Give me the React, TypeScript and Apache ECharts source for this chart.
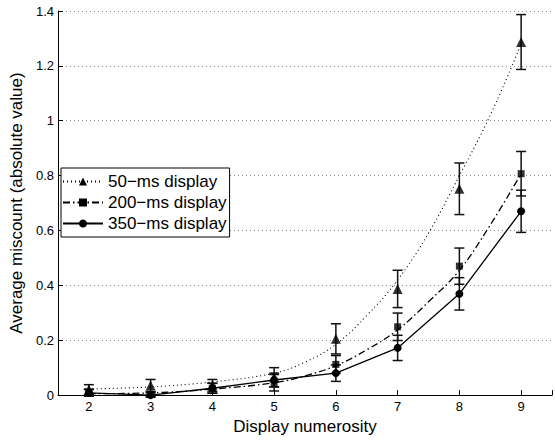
import React, { useEffect, useRef } from "react";
import * as echarts from "echarts";

// Display numerosity (categories on the x axis)
const numerosity = [2, 3, 4, 5, 6, 7, 8, 9];

// Mean miscount per display duration
const ms50 = [0.02, 0.035, 0.035, 0.065, 0.205, 0.387, 0.752, 1.287];
const ms200 = [0.01, 0.003, 0.025, 0.045, 0.112, 0.249, 0.47, 0.807];
const ms350 = [0.008, 0.0, 0.025, 0.055, 0.08, 0.172, 0.369, 0.67];

// Error bar half-lengths
const err50 = [0.018, 0.022, 0.022, 0.035, 0.055, 0.068, 0.094, 0.1];
const err200 = [0.012, 0.008, 0.018, 0.03, 0.032, 0.05, 0.066, 0.081];
const err350 = [0.012, 0.008, 0.018, 0.025, 0.03, 0.046, 0.059, 0.077];

// Fitted curves (dotted = 50 ms, dash-dot = 200 ms)
const fitX = [2, 3, 4, 5, 5.5, 6, 6.5, 7, 7.5, 8, 8.5, 9];
const fit50 = [0.022, 0.03, 0.048, 0.08, 0.12, 0.185, 0.29, 0.42, 0.59, 0.8, 1.02, 1.28];
const fit200 = [0.005, 0.008, 0.022, 0.045, 0.07, 0.107, 0.165, 0.238, 0.34, 0.455, 0.62, 0.807];

const yTicks = [0, 0.2, 0.4, 0.6, 0.8, 1, 1.2, 1.4];

const names = ["50\u2212ms display", "200\u2212ms display", "350\u2212ms display"];

const FONT = "'Liberation Sans', Arial, Helvetica, sans-serif";

function pairs(xs: number[], ys: number[]) {
  return xs.map((x, i) => [x, ys[i]]);
}
function bars(xs: number[], ys: number[], es: number[]) {
  return xs.map((x, i) => [x, ys[i] - es[i], ys[i] + es[i]]);
}

const errRender = (params: any, api: any) => {
  const x = api.value(0);
  const pLo = api.coord([x, api.value(1)]);
  const pHi = api.coord([x, api.value(2)]);
  const w = 5;
  const st = { stroke: "#111", lineWidth: 1.5 };
  return {
    type: "group",
    children: [
      { type: "line", shape: { x1: pLo[0], y1: pLo[1], x2: pHi[0], y2: pHi[1] }, style: st },
      { type: "line", shape: { x1: pLo[0] - w, y1: pLo[1], x2: pLo[0] + w, y2: pLo[1] }, style: st },
      { type: "line", shape: { x1: pHi[0] - w, y1: pHi[1], x2: pHi[0] + w, y2: pHi[1] }, style: st },
    ],
  };
};

export default function App() {
  const ref = useRef<HTMLDivElement>(null);
  useEffect(() => {
    if (!ref.current) return;
    const chart = echarts.init(ref.current, null, { renderer: "svg" });
    const option: any = {
      animation: false,
      backgroundColor: "#fff",
      textStyle: { fontFamily: FONT },
      grid: { left: 55, right: 0, top: 11, bottom: 41, containLabel: false },
      legend: {
        orient: "vertical",
        left: 61,
        top: 168,
        data: names,
        itemWidth: 40,
        itemHeight: 10,
        itemGap: 4,
        padding: [5, 3, 5, 1],
        borderColor: "#000",
        borderWidth: 1,
        backgroundColor: "#fff",
        selectedMode: false,
        textStyle: { fontFamily: FONT, fontSize: 17, color: "#000" },
      },
      xAxis: {
        type: "value",
        min: 1.5,
        max: 9.5,
        splitNumber: 8,
        name: "Display numerosity",
        nameLocation: "middle",
        nameGap: 20,
        nameTextStyle: { fontFamily: FONT, fontSize: 17, color: "#000" },
        axisLine: { lineStyle: { color: "#000", width: 1 } },
        axisTick: { inside: true, length: 5, lineStyle: { color: "#000" } },
        axisLabel: {
          fontFamily: FONT,
          fontSize: 13,
          color: "#000",
          margin: 5,
          formatter: (v: number) => (numerosity.indexOf(v) >= 0 ? String(v) : ""),
        },
        splitLine: { show: false },
      },
      yAxis: {
        type: "value",
        min: yTicks[0],
        max: yTicks[yTicks.length - 1],
        interval: 0.2,
        name: "Average miscount (absolute value)",
        nameLocation: "middle",
        nameGap: 33,
        nameTextStyle: { fontFamily: FONT, fontSize: 17, color: "#000" },
        axisLine: { show: true, lineStyle: { color: "#000", width: 1 } },
        axisTick: { show: true, inside: true, length: 5, lineStyle: { color: "#000" } },
        axisLabel: { fontFamily: FONT, fontSize: 13, color: "#000", margin: 4 },
        splitLine: { show: true, lineStyle: { color: "#8a8a8a", width: 1, type: [1, 3] } },
      },
      series: [
        {
          name: names[0],
          type: "line",
          data: pairs(fitX, fit50),
          smooth: 0.4,
          showSymbol: false,
          symbol: "triangle",
          symbolSize: 9,
          itemStyle: { color: "#000" },
          lineStyle: { color: "#000", width: 1.1, type: [1, 3] },
          z: 2,
          silent: true,
        },
        {
          name: names[1],
          type: "line",
          data: pairs(fitX, fit200),
          smooth: 0.4,
          showSymbol: false,
          symbol: "rect",
          symbolSize: 7,
          itemStyle: { color: "#000" },
          lineStyle: { color: "#000", width: 1.3, type: [7, 3, 1.5, 3] },
          z: 2,
          silent: true,
        },
        {
          name: names[2],
          type: "line",
          data: pairs(numerosity, ms350),
          symbol: "circle",
          symbolSize: 8,
          showSymbol: true,
          itemStyle: { color: "#000" },
          lineStyle: { color: "#000", width: 1.3, type: "solid" },
          z: 4,
          silent: true,
        },
        {
          name: "m50",
          type: "scatter",
          data: pairs(numerosity, ms50),
          symbol: "triangle",
          symbolSize: 10,
          itemStyle: { color: "#000" },
          z: 4,
          silent: true,
        },
        {
          name: "m200",
          type: "scatter",
          data: pairs(numerosity, ms200),
          symbol: "rect",
          symbolSize: 7,
          itemStyle: { color: "#000" },
          z: 4,
          silent: true,
        },
        {
          name: "e50",
          type: "custom",
          renderItem: errRender,
          data: bars(numerosity, ms50, err50),
          z: 3,
          silent: true,
        },
        {
          name: "e200",
          type: "custom",
          renderItem: errRender,
          data: bars(numerosity, ms200, err200),
          z: 3,
          silent: true,
        },
        {
          name: "e350",
          type: "custom",
          renderItem: errRender,
          data: bars(numerosity, ms350, err350),
          z: 3,
          silent: true,
        },
      ],
    };
    chart.setOption(option);
    return () => chart.dispose();
  }, []);
  return (
    <div
      ref={ref}
      style={{ position: "absolute", left: 0, top: 0, width: 555, height: 440 }}
    />
  );
}
